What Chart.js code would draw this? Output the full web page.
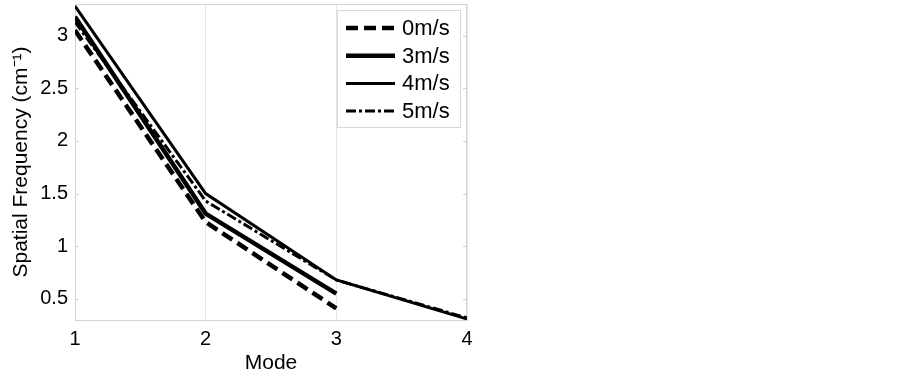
<!DOCTYPE html>
<html>
<head>
<meta charset="utf-8">
<script src="https://cdn.jsdelivr.net/npm/chart.js@4.4.0/dist/chart.umd.min.js"></script>
<style>
  html, body { margin: 0; padding: 0; background: #fff; overflow: hidden; }
  #wrap { width: 902px; height: 371px; position: relative; }
</style>
</head>
<body>
<div id="wrap"><canvas id="c" width="902" height="371"></canvas></div>
<script>
// ---- data ----
const modes = [1, 2, 3, 4];
const seriesNames = ['0m/s', '3m/s', '4m/s', '5m/s'];
const v0 = [3.05, 1.23, 0.41, null];
const v3 = [3.18, 1.31, 0.55, null];
const v4 = [3.28, 1.50, 0.68, 0.31];
const v5 = [3.13, 1.43, 0.68, 0.32];
const xTicks = [1, 2, 3, 4];
const yTicks = [0.5, 1, 1.5, 2, 2.5, 3];

const FONT = "'Liberation Sans', Arial, sans-serif";
const GRID = '#e6e6e6';
const AXIS = '#d4d4d4';

function pts(vals) {
  return modes.map((m, i) => ({ x: m, y: vals[i] }));
}

const styles = [
  { w: 4.5, dash: [12, 6] },
  { w: 4.5, dash: [] },
  { w: 3,   dash: [] },
  { w: 3,   dash: [10, 3, 3, 3] }
];
const values = [v0, v3, v4, v5];

const datasets = values.map((v, i) => ({
  label: seriesNames[i],
  data: pts(v),
  borderColor: '#000',
  backgroundColor: '#000',
  borderWidth: styles[i].w,
  borderDash: styles[i].dash,
  pointRadius: 0,
  tension: 0,
  spanGaps: false,
  fill: false
}));

const framePlugin = {
  id: 'frame',
  beforeDatasetsDraw(chart) {
    const { ctx, chartArea: ca, scales } = chart;
    ctx.save();
    ctx.strokeStyle = AXIS;
    ctx.lineWidth = 1;
    ctx.beginPath();
    ctx.moveTo(ca.left, Math.round(ca.top) + 0.5);
    ctx.lineTo(ca.right, Math.round(ca.top) + 0.5);
    ctx.moveTo(Math.round(ca.right) - 0.5, ca.top);
    ctx.lineTo(Math.round(ca.right) - 0.5, ca.bottom);
    yTicks.forEach(t => {
      const y = Math.round(scales.y.getPixelForValue(t)) + 0.5;
      ctx.moveTo(ca.left, y); ctx.lineTo(ca.left + 4, y);
      ctx.moveTo(ca.right, y); ctx.lineTo(ca.right - 4, y);
    });
    ctx.stroke();
    ctx.restore();
  }
};

const boxLegend = {
  id: 'boxLegend',
  afterDraw(chart) {
    const { ctx, chartArea: ca } = chart;
    const left = ca.right - 130, top = ca.top + 6;
    const w = 123, h = 117;
    ctx.save();
    ctx.fillStyle = '#fff';
    ctx.fillRect(left, top, w, h);
    ctx.strokeStyle = '#d9d9d9';
    ctx.lineWidth = 1;
    ctx.strokeRect(Math.round(left) + 0.5, Math.round(top) + 0.5, w, h);
    ctx.font = '22px ' + FONT;
    ctx.textBaseline = 'middle';
    ctx.fillStyle = '#000';
    chart.data.datasets.forEach((ds, i) => {
      const y = top + 18 + i * 27.7;
      ctx.save();
      ctx.strokeStyle = ds.borderColor;
      ctx.lineWidth = ds.borderWidth;
      ctx.setLineDash(ds.borderDash || []);
      ctx.beginPath();
      ctx.moveTo(left + 9, y);
      ctx.lineTo(left + 58, y);
      ctx.stroke();
      ctx.restore();
      ctx.fillText(ds.label, left + 65, y + 1);
    });
    ctx.restore();
  }
};

new Chart(document.getElementById('c'), {
  type: 'line',
  data: { datasets },
  options: {
    responsive: false,
    animation: false,
    devicePixelRatio: 1,
    layout: { padding: { top: 4, right: 435, left: 0, bottom: 0 } },
    plugins: { legend: { display: false }, tooltip: { enabled: false } },
    scales: {
      x: {
        type: 'linear',
        min: 1, max: 4,
        afterBuildTicks: s => { s.ticks = xTicks.map(v => ({ value: v })); },
        afterFit: s => { s.height = 51; s.paddingLeft = 0; s.paddingRight = 0; },
        grid: { color: GRID, drawTicks: false, lineWidth: 1 },
        border: { display: true, color: AXIS },
        ticks: { color: '#000', font: { family: FONT, size: 20 }, padding: 7, maxRotation: 0 },
        title: { display: true, text: 'Mode', color: '#000',
                 font: { family: FONT, size: 21, lineHeight: 1 }, padding: { top: 0, bottom: -3 } }
      },
      y: {
        type: 'linear',
        min: 0.3, max: 3.3,
        afterBuildTicks: s => { s.ticks = yTicks.map(v => ({ value: v })); },
        afterFit: s => { s.width = 75; s.paddingTop = 0; s.paddingBottom = 0; },
        grid: { display: false, drawTicks: false },
        border: { display: true, color: AXIS },
        ticks: { color: '#000', font: { family: FONT, size: 20 }, padding: 7,
                 callback: v => String(v) },
        title: { display: true, text: 'Spatial Frequency (cm⁻¹)', color: '#000',
                 font: { family: FONT, size: 21 }, padding: { top: 9, bottom: 0 } }
      }
    }
  },
  plugins: [framePlugin, boxLegend]
});
</script>
</body>
</html>
